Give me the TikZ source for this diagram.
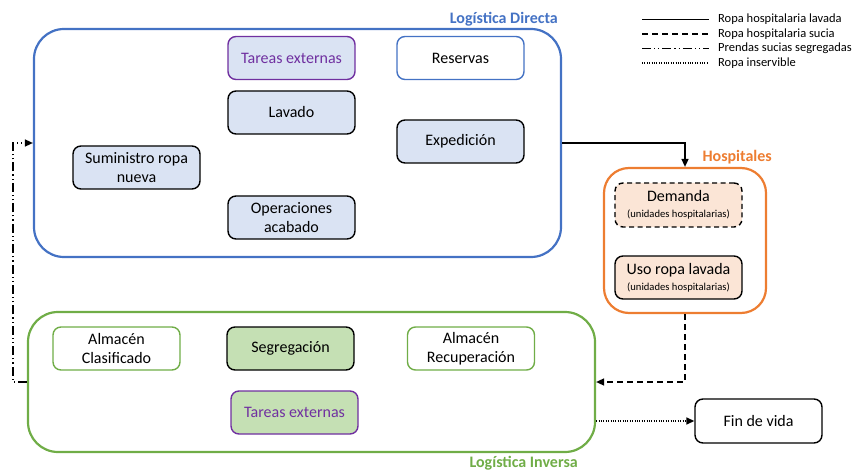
\documentclass[tikz,border=0pt]{standalone}
\usepackage{fontspec}
\setmainfont{Carlito}
\usetikzlibrary{arrows.meta}

\definecolor{dirblue}{HTML}{4472C4}
\definecolor{hosporange}{HTML}{ED7D31}
\definecolor{invgreen}{HTML}{70AD47}
\definecolor{extpurple}{HTML}{7030A0}
\definecolor{fillblue}{HTML}{DAE3F3}
\definecolor{fillorange}{HTML}{FBE5D6}
\definecolor{fillgreen}{HTML}{C5E0B4}

\newcommand{\boxfs}{\fontsize{16}{19}\selectfont}
\newcommand{\smallfs}{\fontsize{10.6}{12}\selectfont}
\newcommand{\legfs}{\fontsize{12.5}{14}\selectfont}
\newcommand{\titlefs}{\fontsize{16}{19}\selectfont\bfseries}

\begin{document}
\begin{tikzpicture}[x=1pt,y=-1pt,
  group/.style={draw, line width=2.2pt, minimum width=#1, inner sep=0pt},
  stage/.style={draw, rounded corners=8pt, line width=1.4pt,
    minimum width=127pt, minimum height=43pt, align=center,
    font=\boxfs, inner sep=1pt},
  grouptitle/.style={anchor=east, font=\titlefs, inner sep=0pt},
  washed/.style={line width=1.5pt},
  soiled/.style={line width=1.5pt, dash pattern=on 6pt off 4pt},
  segregated/.style={line width=1.5pt,
    dash pattern=on 9pt off 3pt on 1.2pt off 3pt on 1.2pt off 3pt},
  unusable/.style={line width=1.5pt, dash pattern=on 1pt off 1.4pt},
  tip/.style={-{Triangle[length=8pt,width=7pt]}},
  legtext/.style={anchor=west, font=\legfs, inner sep=0pt}]

\useasboundingbox (0,0) rectangle (853,470);

% ---- group containers ----
\node[group=527pt, minimum height=228pt, rounded corners=30pt, dirblue]
  (dir) at (297.5,143) {};
\node[group=162pt, minimum height=145pt, rounded corners=25pt, hosporange]
  (hosp) at (685,240.5) {};
\node[group=567pt, minimum height=140pt, rounded corners=30pt, invgreen]
  (inv) at (311.5,382) {};

\node[grouptitle, text=dirblue] (dirtitle) at (558,19) {Logística Directa};
\node[grouptitle, text=hosporange] (hosptitle) at (772,157) {Hospitales};
\node[grouptitle, text=invgreen] (invtitle) at (578,463) {Logística Inversa};

% ---- direct logistics ----
\node[stage, draw=extpurple, fill=fillblue, text=extpurple] (ext1) at (291.5,58) {Tareas externas};
\node[stage, draw=dirblue, fill=white] (res) at (460.5,58) {Reservas};
\node[stage, fill=fillblue] (lav) at (291.5,112.5) {Lavado};
\node[stage, fill=fillblue] (exp) at (460.5,141.5) {Expedición};
\node[stage, fill=fillblue] (sum) at (136.5,167.5) {Suministro ropa\\nueva};
\node[stage, fill=fillblue] (ope) at (291.5,217.5) {Operaciones\\acabado};

% ---- hospitals ----
\node[stage, fill=fillorange, dash pattern=on 5pt off 3.5pt, minimum height=44pt]
  (dem) at (678.5,205) {Demanda\\[-3pt]{\smallfs(unidades hospitalarias)}};
\node[stage, fill=fillorange] (uso) at (678.5,277.5)
  {Uso ropa lavada\\[-3pt]{\smallfs(unidades hospitalarias)}};

% ---- reverse logistics ----
\node[stage, draw=invgreen, fill=white] (almc) at (116.5,348.5) {Almacén\\Clasificado};
\node[stage, fill=fillgreen] (seg) at (290.5,348.5) {Segregación};
\node[stage, draw=extpurple, fill=fillgreen, text=extpurple] (ext2) at (294.5,412.5) {Tareas externas};
\node[stage, draw=invgreen, fill=white] (almr) at (471,348.5) {Almacén\\Recuperación};

\node[stage, minimum height=44pt] (fin) at (758.5,421) {Fin de vida};

% ---- flows ----
\draw[washed, tip] (dir.east) -| (hosp.north);
\draw[soiled, tip] (hosp.south) |- (inv.east);
\draw[unusable, tip] (inv.east |- fin.west) -- (fin.west);
\coordinate (loop) at (13,143);
\draw[segregated, tip] (inv.west) -- (inv.west -| loop) |- (dir.west);

% ---- legend ----
\node[legtext] (leg1) at (718,19.5) {Ropa hospitalaria lavada};
\node[legtext] (leg2) at (718,34) {Ropa hospitalaria sucia};
\node[legtext] (leg3) at (718,48.5) {Prendas sucias segregadas};
\node[legtext] (leg4) at (718,63) {Ropa inservible};
\draw[washed]     ([xshift=-76pt]leg1.west) -- ([xshift=-9pt]leg1.west);
\draw[soiled]     ([xshift=-76pt]leg2.west) -- ([xshift=-9pt]leg2.west);
\draw[segregated] ([xshift=-76pt]leg3.west) -- ([xshift=-9pt]leg3.west);
\draw[unusable]   ([xshift=-76pt]leg4.west) -- ([xshift=-9pt]leg4.west);
\end{tikzpicture}
\end{document}
